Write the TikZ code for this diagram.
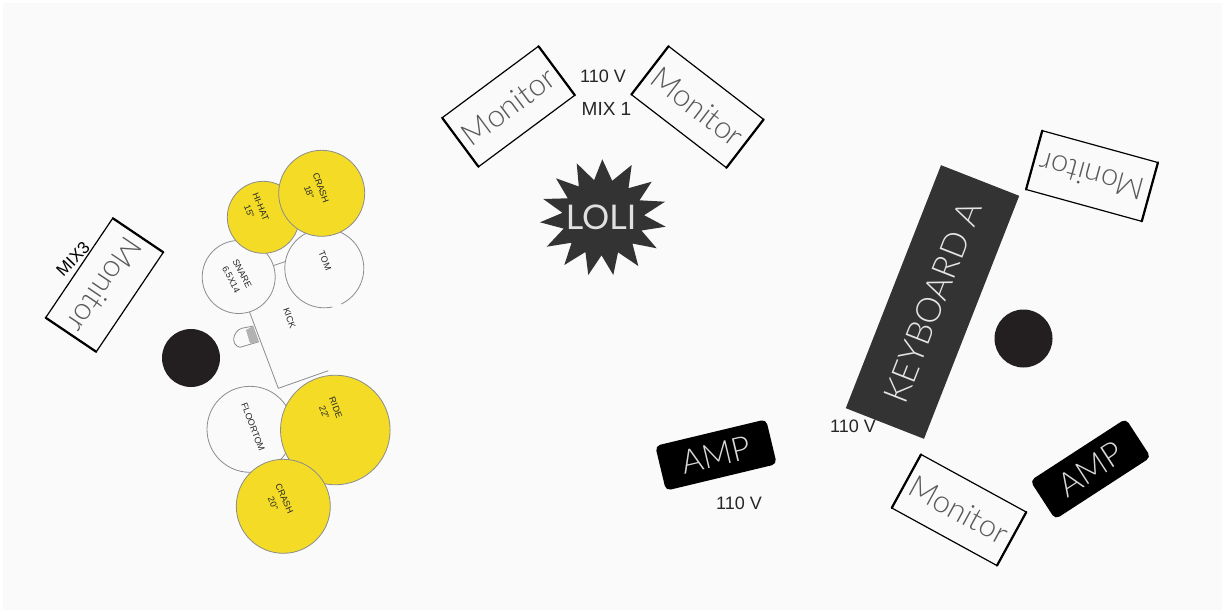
\documentclass[tikz,border=0pt]{standalone}
\usepackage{fontspec}
\setmainfont{Liberation Sans}
\newfontfamily\thinfont{Lato Light}
\newfontfamily\midfont{Lato}
\definecolor{bg}{HTML}{FAFAFA}
\definecolor{dark}{HTML}{333333}
\definecolor{cym}{HTML}{F4DC26}
\definecolor{rimg}{HTML}{8C8C8C}
\definecolor{ink}{HTML}{231F20}
\tikzset{
  monitorbox/.style={draw=black,line width=1.2pt,fill=bg,minimum width=120pt,minimum height=61pt,inner sep=0pt,outer sep=0pt,font=\thinfont\fontsize{31}{31}\selectfont,text=black!65},
  bar/.style={line width=2.2pt,line cap=round},
  ampbox/.style={fill=black,rounded corners=5pt,minimum width=114pt,minimum height=46pt,inner sep=0pt,text=white!85!black,font=\thinfont\fontsize{33}{33}\selectfont},
  person/.style={circle,fill=ink,minimum size=58pt,inner sep=0pt},
  cymbal/.style={circle,draw=rimg,line width=.8pt,fill=cym,inner sep=0pt},
  drum/.style={circle,draw=rimg,line width=.8pt,fill=bg,inner sep=0pt},
  druml/.style={font=\fontsize{9}{12.5}\selectfont,align=center,text=black!85,inner sep=0pt},
  volt/.style={font=\fontsize{18}{18}\selectfont,text=black!85,inner sep=0pt},
  kickline/.style={draw=rimg,line width=.8pt},
}
\begin{document}
\begin{tikzpicture}[x=1pt,y=-1pt]
\useasboundingbox (0,0) rectangle (1225,613);
\fill[white] (0,0) rectangle (1225,613);
\fill[bg] (3,3) rectangle (1222,610);
% kick
\coordinate (kTL) at (236.7,278);
\coordinate (kBL) at (278.3,388.3);
\coordinate (kBR) at (328.3,370.7);
\coordinate (kTR) at (290,260);
\draw[kickline] (kTR) -- (kTL) -- (kBL) -- (kBR);
\node[druml,rotate=-70] (kick) at (289.5,318) {KICK};
% pedal
\coordinate (p1) at (253.3,326);
\coordinate (p2) at (259,341.7);
\coordinate (p3) at (241.7,328.3);
\coordinate (p4) at (240,347.3);
\coordinate (p5) at (246,330);
\coordinate (p6) at (250,343.5);
\draw[kickline,fill=bg] (p1) -- (p3) .. controls (233,331) and (230,345) .. (p4) -- (p2);
\fill[black!30] (p1) -- (p5) -- (p6) -- (p2) -- cycle;
% drums
\node[drum,minimum size=73pt] (snare) at (238.7,277) {};
\node[druml,rotate=-63] (snarel) at (236.7,276.7) {SNARE\\6.5X14};
\node[drum,minimum size=79pt] (tom) at (324.3,268.3) {};
\node[druml,rotate=-68] (toml) at (325,261) {TOM};
\fill[bg] (336.5,304.5) circle (5pt);
\node[cymbal,minimum size=72pt] (hihat) at (263.3,217.3) {};
\node[druml,rotate=-68] (hihatl) at (255,209) {HI-HAT\\15"};
\node[cymbal,minimum size=86pt] (crasha) at (321.7,193.3) {};
\node[druml,rotate=-70] (crashal) at (315,190) {CRASH\\18"};
\node[drum,minimum size=86pt] (floor) at (250,429.3) {};
\node[druml,rotate=-69] (floorl) at (253,427) {FLOORTOM};
\node[cymbal,minimum size=109.6pt] (ride) at (335.3,430) {};
\node[druml,rotate=-68] (ridel) at (330,410) {RIDE\\22"};
\node[cymbal,minimum size=94pt] (crashb) at (283.3,506.3) {};
\node[druml,rotate=-66] (crashbl) at (278.7,501) {CRASH\\20"};
% people
\node[person] (p left) at (191,358) {};
\node[person] (p right) at (1023.5,338.5) {};
% monitors
\node[monitorbox,rotate=36.6] (m1) at (508.5,106.5) {Monitor};
\node[monitorbox,rotate=-37.6] (m2) at (697.5,107) {Monitor};
\node[monitorbox,rotate=236] (m3) at (104.5,285) {Monitor};
\node[monitorbox,rotate=164.6] (m4) at (1092,176) {Monitor};
\node[monitorbox,rotate=-28.7] (m5) at (959,510) {Monitor};
\foreach \m in {m1,m2,m3,m4,m5}{
  \draw[bar] (\m.north west) -- (\m.south west);
  \draw[bar] (\m.north east) -- (\m.south east);
}
% keyboard
\node[fill=dark,rotate=68.6,minimum width=261pt,minimum height=84pt,inner sep=0pt,text=white!90!black,font=\thinfont\fontsize{34.5}{35}\selectfont] (kbd) at (932.5,302) {KEYBOARD A};
% amps
\node[ampbox,rotate=13.5] (amp1) at (716,455) {AMP};
\node[ampbox,rotate=33] (amp2) at (1090.5,469) {AMP};
% star
\fill[dark] (602.3,159.3) -- (612.2,180.8) -- (631.7,165) -- (628.5,188.2) -- (651.7,181.7) -- (639.5,200.3) -- (665,201.7) -- (644.1,215.2) -- (665.7,226.7) -- (641.4,230.5) -- (656.7,248.3) -- (632.4,243.5) -- (638.3,266) -- (618,252.3) -- (613.3,275) -- (601.5,255.3) -- (588.3,275) -- (585.4,252) -- (564.3,265) -- (571.6,242.7) -- (546.7,246.7) -- (563.7,228.6) -- (540,222.3) -- (562.5,212.8) -- (543.3,199) -- (567.8,198.3) -- (556,178.3) -- (578.8,186.5) -- (576.7,163.3) -- (594.1,180.2) -- cycle;
\node[font=\midfont\fontsize{34}{34}\selectfont,text=white!88!black,inner sep=0pt] (loli) at (601,217) {LOLI};
% labels
\node[volt] (v1) at (603,76) {110 V};
\node[font=\fontsize{19}{19}\selectfont,text=black!85,inner sep=0pt] (mix1) at (606.5,108.5) {MIX 1};
\node[volt] (v2) at (853,426) {110 V};
\node[volt] (v3) at (739,503) {110 V};
\node[font=\fontsize{17}{17}\selectfont,rotate=46,inner sep=0pt] (mix3) at (73,259) {MIX3};
\end{tikzpicture}
\end{document}
